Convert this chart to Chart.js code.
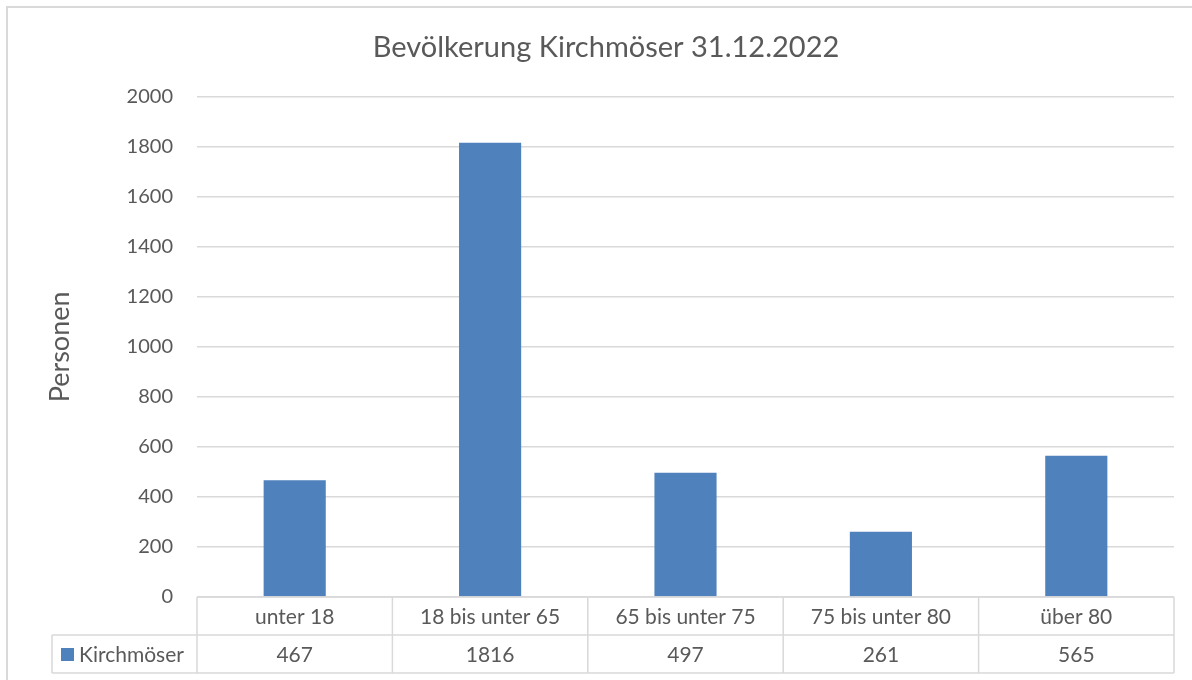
<!DOCTYPE html>
<html>
<head>
<meta charset="utf-8">
<script src="https://cdn.jsdelivr.net/npm/chart.js@4"></script>
<style>
  html, body { margin: 0; padding: 0; background: #fff; }
  #wrap { width: 1192px; height: 680px; position: relative; }
</style>
</head>
<body>
<div id="wrap"><canvas id="chart"></canvas></div>
<script>
const categories = ['unter 18', '18 bis unter 65', '65 bis unter 75', '75 bis unter 80', 'über 80'];
const seriesName = 'Kirchmöser';
const values = [467, 1816, 497, 261, 565];
const titleText = 'Bevölkerung Kirchmöser 31.12.2022';
const yTitle = 'Personen';

const textColor = '#595959';
const lineColor = '#d9d9d9';
const barColor = '#4f81bd';
const fontFamily = 'Lato, "Open Sans", sans-serif';

// data table under the plot, drawn from the x scale
const dataTable = {
    id: 'dataTable',
    afterDraw(chart) {
        const ctx = chart.ctx
        const x = chart.scales.x
        const area = chart.chartArea
        const rowH = 38
        const y0 = area.bottom
        const y1 = y0 + rowH
        const y2 = y1 + rowH
        const legendLeft = 52
        const half = (area.right - area.left) / categories.length / 2

        ctx.save()
        ctx.strokeStyle = lineColor
        ctx.lineWidth = 1.5
        ctx.beginPath()
        ctx.moveTo(area.left, y0); ctx.lineTo(area.right, y0)
        ctx.moveTo(legendLeft, y1); ctx.lineTo(area.right, y1)
        ctx.moveTo(legendLeft, y2); ctx.lineTo(area.right, y2)
        ctx.moveTo(legendLeft, y1); ctx.lineTo(legendLeft, y2)
        ctx.moveTo(area.left, y0); ctx.lineTo(area.left, y2)
        for (let i = 0; i < categories.length; i++) {
            const r = x.getPixelForValue(i) + half
            ctx.moveTo(r, y0); ctx.lineTo(r, y2)
        }
        ctx.stroke()

        ctx.fillStyle = textColor
        ctx.font = '21px ' + fontFamily
        ctx.textAlign = 'center'
        ctx.textBaseline = 'middle'
        for (let i = 0; i < categories.length; i++) {
            const cx = x.getPixelForValue(i)
            ctx.fillText(categories[i], cx, y0 + rowH / 2 + 1)
            ctx.fillText(String(values[i]), cx, y1 + rowH / 2 + 1)
        }
        ctx.fillStyle = barColor
        ctx.fillRect(61, y1 + 13, 13, 13)
        ctx.fillStyle = textColor
        ctx.textAlign = 'left'
        ctx.fillText(seriesName, 79, y1 + rowH / 2 + 1)

        // outer chart border
        ctx.strokeStyle = lineColor
        ctx.lineWidth = 2
        ctx.strokeRect(7, 7, 1200, 700)
        ctx.restore()
    }
}

const chart = new Chart(document.getElementById('chart'), {
    type: 'bar',
    data: {
        labels: categories,
        datasets: [{
            label: seriesName,
            data: values,
            backgroundColor: barColor,
            barPercentage: 0.318,
            categoryPercentage: 1
        }]
    },
    options: {
        responsive: true,
        maintainAspectRatio: false,
        animation: false,
        layout: { padding: { top: 0, right: 0, bottom: 83, left: 20 } },
        plugins: {
            legend: { display: false },
            tooltip: { enabled: false },
            title: {
                display: true,
                text: titleText,
                color: textColor,
                font: { family: fontFamily, size: 29, weight: 'normal' },
                padding: { top: 30, bottom: 32 }
            }
        },
        scales: {
            x: {
                display: false,
                offset: true
            },
            y: {
                min: 0,
                max: 2000,
                ticks: {
                    stepSize: 200,
                    color: textColor,
                    padding: 24,
                    font: { family: fontFamily, size: 20 },
                    callback: v => String(v)
                },
                grid: { color: lineColor, lineWidth: 1.5, drawTicks: false },
                border: { display: false },
                title: {
                    display: true,
                    text: yTitle,
                    color: textColor,
                    font: { family: fontFamily, size: 27 },
                    padding: { top: 24, bottom: 0 }
                },
                afterFit(scale) { scale.width = 177 }
            },
            yRight: {
                position: 'right',
                grid: { display: false },
                border: { display: false },
                ticks: { display: false },
                afterFit(scale) { scale.width = 18 }
            }
        }
    },
    plugins: [dataTable]
})
</script>
</body>
</html>
